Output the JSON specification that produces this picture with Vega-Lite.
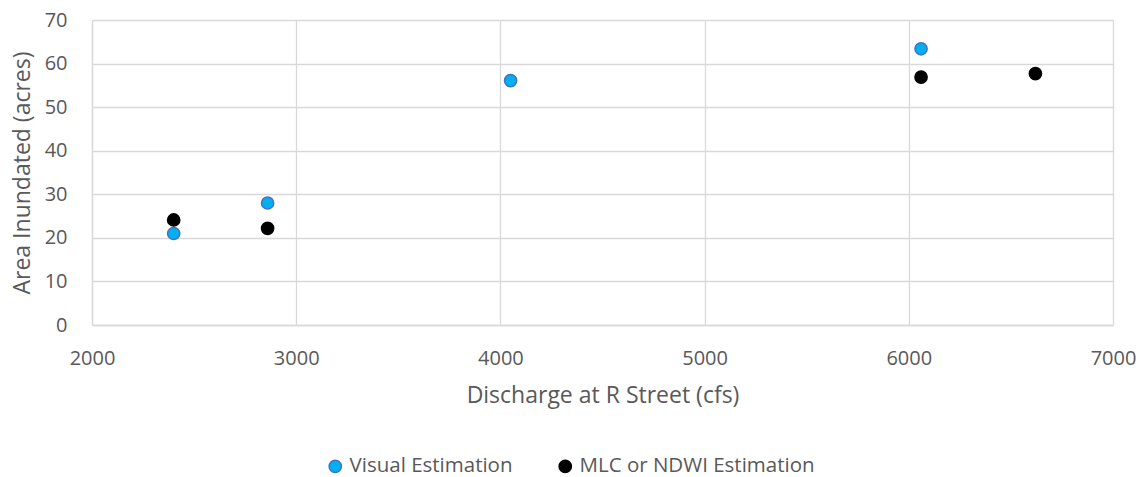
{
  "$schema": "https://vega.github.io/schema/vega-lite/v6.json",
  "width": 1021,
  "height": 305,
  "autosize": "none",
  "padding": {"left": 92, "top": 20, "right": 32, "bottom": 152},
  "background": "white",
  "config": {
    "font": "Open Sans",
    "view": {"stroke": null},
    "axis": {
      "gridColor": "#D9D9D9",
      "gridWidth": 1.3,
      "domainColor": "#D9D9D9",
      "domainWidth": 1.3,
      "ticks": false,
      "labelFlush": false,
      "labelColor": "#595959",
      "labelFontSize": 20,
      "labelFont": "Open Sans",
      "titleColor": "#595959",
      "titleFontSize": 23,
      "titleFont": "Open Sans",
      "titleFontWeight": "normal"
    },
    "legend": {
      "labelColor": "#595959",
      "labelFontSize": 20.5,
      "labelFont": "Open Sans",
      "labelLimit": 400
    }
  },
  "data": {
    "values": [
      {"discharge": 2400, "area": 21.0, "method": "Visual Estimation"},
      {"discharge": 2860, "area": 28.0, "method": "Visual Estimation"},
      {"discharge": 4050, "area": 56.1, "method": "Visual Estimation"},
      {"discharge": 6060, "area": 63.4, "method": "Visual Estimation"},
      {"discharge": 2400, "area": 24.1, "method": "MLC or NDWI Estimation"},
      {"discharge": 2860, "area": 22.2, "method": "MLC or NDWI Estimation"},
      {"discharge": 6060, "area": 56.9, "method": "MLC or NDWI Estimation"},
      {"discharge": 6620, "area": 57.7, "method": "MLC or NDWI Estimation"}
    ]
  },
  "mark": {"type": "point", "filled": true, "size": 150, "strokeWidth": 1.5, "opacity": 1},
  "encoding": {
    "x": {
      "field": "discharge",
      "type": "quantitative",
      "scale": {"domain": [2000, 7000], "nice": false, "zero": false},
      "axis": {
        "values": [2000, 3000, 4000, 5000, 6000, 7000],
        "format": "d",
        "title": "Discharge at R Street (cfs)",
        "labelPadding": 23,
        "titlePadding": 16
      }
    },
    "y": {
      "field": "area",
      "type": "quantitative",
      "scale": {"domain": [0, 70], "nice": false},
      "axis": {
        "values": [0, 10, 20, 30, 40, 50, 60, 70],
        "title": "Area Inundated (acres)",
        "labelPadding": 25,
        "titlePadding": 10
      }
    },
    "fill": {
      "field": "method",
      "type": "nominal",
      "scale": {"domain": ["Visual Estimation", "MLC or NDWI Estimation"], "range": ["#00B0F0", "#000000"]},
      "legend": {
        "title": null,
        "orient": "none",
        "direction": "horizontal",
        "legendX": 233,
        "legendY": 436,
        "columnPadding": 42,
        "labelOffset": 4,
        "symbolSize": 150,
        "symbolStrokeWidth": 1.5
      }
    },
    "stroke": {
      "field": "method",
      "type": "nominal",
      "scale": {"domain": ["Visual Estimation", "MLC or NDWI Estimation"], "range": ["#4472C4", "#000000"]},
      "legend": {
        "title": null,
        "orient": "none",
        "direction": "horizontal",
        "legendX": 233,
        "legendY": 436,
        "columnPadding": 42,
        "labelOffset": 4,
        "symbolSize": 150,
        "symbolStrokeWidth": 1.5
      }
    }
  }
}
